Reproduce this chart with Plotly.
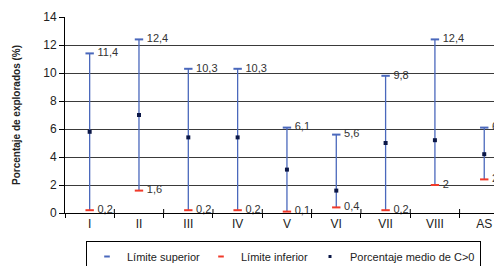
import plotly.graph_objects as go

categories = ["I", "II", "III", "IV", "V", "VI", "VII", "VIII", "AS"]
upper = [11.4, 12.4, 10.3, 10.3, 6.1, 5.6, 9.8, 12.4, 6.1]
lower = [0.2, 1.6, 0.2, 0.2, 0.1, 0.4, 0.2, 2.0, 2.4]
mean = [5.8, 7.0, 5.4, 5.4, 3.1, 1.6, 5.0, 5.2, 4.2]
y_ticks = [0, 2, 4, 6, 8, 10, 12, 14]
legend_names = ["Límite superior", "Límite inferior", "Porcentaje medio de C>0"]

BLUE = "#4A68BC"
RED = "#F03A2A"
NAVY = "#0B1747"
FONT = "Liberation Sans, Arial, sans-serif"

# page body has an 8px margin: the figure is sized to the visible window
W, H = 494, 258


def fmt(v):
    return " " + f"{v:g}".replace(".", ",")


fig = go.Figure()

# vertical range lines (from lower to upper), drawn first
fig.add_trace(go.Scatter(
    x=categories, y=lower, mode="markers",
    marker=dict(size=0.1, color="rgba(0,0,0,0)"),
    error_y=dict(type="data", symmetric=False,
                 array=[u - l for u, l in zip(upper, lower)],
                 arrayminus=[0] * len(lower),
                 color=BLUE, thickness=1.3, width=0),
    showlegend=False, hoverinfo="skip", cliponaxis=False,
))

# caps and mean markers
fig.add_trace(go.Scatter(
    x=categories, y=upper, mode="markers", name=legend_names[0],
    marker=dict(symbol="line-ew", size=6, line=dict(width=2, color=BLUE)),
    cliponaxis=False, showlegend=False,
))
fig.add_trace(go.Scatter(
    x=categories, y=lower, mode="markers", name=legend_names[1],
    marker=dict(symbol="line-ew", size=6, line=dict(width=2, color=RED)),
    cliponaxis=False, showlegend=False,
))
fig.add_trace(go.Scatter(
    x=categories, y=mean, mode="markers", name=legend_names[2],
    marker=dict(symbol="square", size=4, color=NAVY),
    cliponaxis=False, showlegend=False,
))

# value labels (offset by an invisible marker)
for vals in (upper, lower):
    fig.add_trace(go.Scatter(
        x=categories, y=vals, mode="markers+text",
        marker=dict(size=6, color="rgba(0,0,0,0)"),
        text=[fmt(v) for v in vals], textposition="middle right",
        textfont=dict(family=FONT, size=11, color="#333333"),
        cliponaxis=False, showlegend=False, hoverinfo="skip",
    ))

# legend entries (small symbols as in the reference)
legend_markers = [
    dict(symbol="line-ew", size=4, line=dict(width=2, color=BLUE)),
    dict(symbol="line-ew", size=4, line=dict(width=2, color=RED)),
    dict(symbol="square", size=3, color=NAVY),
]
legend_widths = [69, 64, None]
for name, mk, lw in zip(legend_names, legend_markers, legend_widths):
    kw = dict(legendwidth=lw) if lw else {}
    fig.add_trace(go.Scatter(x=[None], y=[None], mode="markers", name=name,
                             marker=mk, **kw))

# upper half of the crossing tick marks at category boundaries
for i in range(len(categories)):
    fig.add_shape(type="line", xref="x", yref="y", ysizemode="pixel",
                  yanchor=0, x0=i + 0.5, x1=i + 0.5, y0=0, y1=4,
                  line=dict(color="black", width=1))

fig.update_layout(
    width=W, height=H,
    margin=dict(l=57, r=0, t=9, b=53, autoexpand=False),
    paper_bgcolor="white", plot_bgcolor="white",
    font=dict(family=FONT, size=12, color="black"),
    xaxis=dict(
        type="category", categoryorder="array", categoryarray=categories,
        range=[-0.5, 8.36], tickson="boundaries", automargin=False,
        ticks="outside", ticklen=4, tickcolor="black", tickwidth=1,
        showline=True, linecolor="black", linewidth=1,
        showgrid=False, tickfont=dict(size=12, color="#222222"),
    ),
    yaxis=dict(
        range=[0, 14], tickvals=y_ticks, automargin=False,
        ticks="outside", ticklen=5, tickcolor="black",
        showline=True, linecolor="black", linewidth=1,
        showgrid=False, zeroline=False,
        minor=dict(tickmode="array", tickvals=y_ticks[1:-1], showgrid=True,
                   gridcolor="#3a3a3a", gridwidth=1, ticks=""),
        tickfont=dict(size=12, color="#222222"),
        title=dict(text="<b>Porcentaje de explorados (%)</b>",
                   font=dict(size=10, color="#222222"), standoff=20),
    ),
    legend=dict(
        orientation="h", xref="container", yref="container",
        x=78 / W, y=1 - 233 / H, xanchor="left", yanchor="top",
        bordercolor="black", borderwidth=1, font=dict(size=11, color="#222222"),
        itemwidth=30, tracegroupgap=0,
    ),
    showlegend=True,
)

fig.write_html("out.html")
